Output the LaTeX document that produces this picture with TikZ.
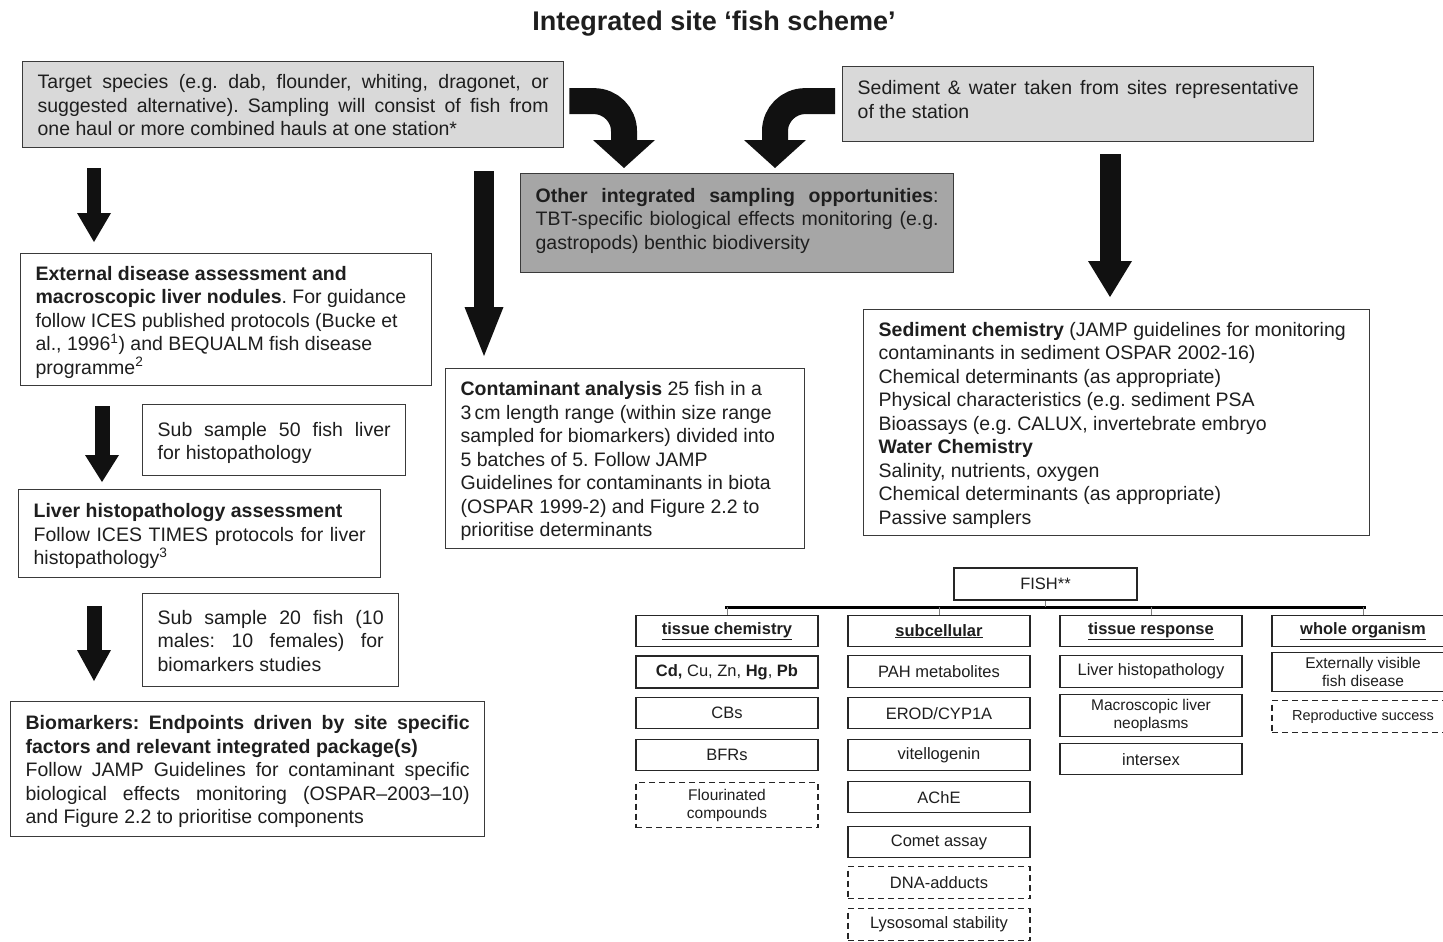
\documentclass[tikz,border=0pt]{standalone}
\usepackage{fontspec}
\setmainfont{Liberation Sans}
\usetikzlibrary{calc,arrows.meta}
\definecolor{lightfill}{HTML}{D9D9D9}
\definecolor{darkfill}{HTML}{A6A6A6}
\definecolor{bordercol}{HTML}{3A3A3A}
\definecolor{txt}{HTML}{1E1E1E}
\definecolor{arrowcol}{HTML}{111111}
\newcommand\mainsize{\fontsize{19.5}{23.5}\selectfont}
\newcommand\treesize{\fontsize{16.5}{18}\selectfont}
\newcommand\treesmall{\fontsize{15.5}{18}\selectfont}
\frenchspacing
\begin{document}
\begin{tikzpicture}[x=1pt,y=-1pt,
  box/.style={draw=bordercol, line width=1.3pt, anchor=north west, inner xsep=15pt, inner ysep=0pt,
    align=justify, font=\mainsize, text=txt,
    execute at begin node={\tolerance=9999\hbadness=10000\hyphenpenalty=10000\exhyphenpenalty=10000\rule{0pt}{22.5pt}}},
  tb/.style={draw=black!85, line width=1.2pt, anchor=north, minimum width=182pt, inner sep=0pt,
    align=center, font=\treesize, text=txt},
  tbd/.style={tb, dash pattern=on 6pt off 4pt},
  blk/.style={draw=arrowcol, line width=#1},
]
\useasboundingbox (0,0) rectangle (1443,942);
\fill[white] (0,0) rectangle (1443,942);
\clip (0,0) rectangle (1443,942);

\node[font=\fontsize{27}{32}\selectfont\bfseries, text=txt] (title) at (714,24) {Integrated site ‘fish scheme’};

% upper boxes
\node[box, fill=lightfill, text width=511pt, minimum width=541pt, minimum height=86pt] (target) at (22,61)
 {Target species (e.g. dab, flounder, whiting, dragonet, or\linebreak suggested alternative). Sampling will consist of fish from\linebreak one haul or more combined hauls at one station*\strut};

\node[box, fill=lightfill, text width=441pt, minimum width=471pt, minimum height=75pt] (sedw) at (842,66)
 {Sediment \& water taken from sites representative\linebreak of the station\strut\par\vspace*{11pt}};

\node[box, fill=darkfill, text width=403pt, minimum width=433pt, minimum height=99pt] (other) at (520,173)
 {\textbf{Other integrated sampling opportunities}:\linebreak TBT-specific biological effects monitoring (e.g.\linebreak gastropods) benthic biodiversity\strut\par\vspace*{10pt}};

\node[box, fill=white, text width=381pt, minimum width=411pt, minimum height=132pt] (ext) at (20,253)
 {\textbf{External disease assessment and}\\ \textbf{macroscopic liver nodules}. For guidance\\ follow ICES published protocols (Bucke et\\ al., 1996\textsuperscript{1}) and BEQUALM fish disease\\ programme\textsuperscript{2}\strut};

\node[box, fill=white, text width=233pt, minimum width=263pt, minimum height=71pt] (sub50) at (142,404)
 {Sub sample 50 fish liver\linebreak for histopathology\strut};

\node[box, fill=white, text width=332pt, minimum width=362pt, minimum height=88pt] (liver) at (18,489)
 {\textbf{Liver histopathology assessment}\\ Follow ICES TIMES protocols for liver\linebreak histopathology\textsuperscript{3}\strut};

\node[box, fill=white, text width=226pt, minimum width=256pt, minimum height=93pt] (sub20) at (142,593)
 {Sub sample 20 fish (10\linebreak males: 10 females) for\linebreak biomarkers studies\strut};

\node[box, fill=white, text width=444pt, minimum width=474pt, minimum height=135pt] (bio) at (10,701)
 {\textbf{Biomarkers: Endpoints driven by site specific}\linebreak \textbf{factors and relevant integrated package(s)}\\ Follow JAMP Guidelines for contaminant specific\linebreak biological effects monitoring (OSPAR–2003–10)\linebreak and Figure 2.2 to prioritise components\strut};

\node[box, fill=white, text width=329pt, minimum width=359pt, minimum height=180pt] (contam) at (445,368)
 {\textbf{Contaminant analysis} 25 fish in a\\ 3\,cm length range (within size range\\ sampled for biomarkers) divided into\\ 5 batches of 5. Follow JAMP\\ Guidelines for contaminants in biota\\ (OSPAR 1999-2) and Figure 2.2 to\\ prioritise determinants\strut};

\node[box, fill=white, text width=476pt, minimum width=506pt, minimum height=226pt] (sedchem) at (863,309)
 {\textbf{Sediment chemistry} (JAMP guidelines for monitoring\\ contaminants in sediment OSPAR 2002-16)\\ Chemical determinants (as appropriate)\\ Physical characteristics (e.g. sediment PSA\\ Bioassays (e.g. CALUX, invertebrate embryo\\ \textbf{Water Chemistry}\\ Salinity, nutrients, oxygen\\ Chemical determinants (as appropriate)\\ Passive samplers\strut};

% block arrows
\draw[blk=14pt, -{Triangle[width=34pt,length=29pt,line width=0pt]}]
  ($(target.south west)+(72,20)$) -- ($(ext.north west)+(74,-11)$);
\draw[blk=15pt, -{Triangle[width=34pt,length=27pt,line width=0pt]}]
  ($(ext.south west)+(82,20)$) -- ($(liver.north west)+(84,-7)$);
\draw[blk=15pt, -{Triangle[width=34pt,length=31pt,line width=0pt]}]
  ($(liver.south west)+(76,28)$) -- ($(bio.north west)+(84,-20)$);
\draw[blk=20pt, -{Triangle[width=39pt,length=49pt,line width=0pt]}]
  ($(target.south west)+(462,23)$) -- ($(contam.north west)+(39,-12)$);
\draw[blk=21pt, -{Triangle[width=44pt,length=36pt,line width=0pt]}]
  ($(sedw.south west)+(268,12)$) -- ($(sedchem.north west)+(247,-12)$);
% curved arrows
\draw[blk=26pt, rounded corners=30pt, -{Triangle[width=62pt,length=28pt,line width=0pt]}]
  ($(target.east)+(5,-3.5)$) -| ($(other.north west)+(104,-5)$);
\draw[blk=26pt, rounded corners=30pt, -{Triangle[width=62pt,length=28pt,line width=0pt]}]
  ($(sedw.west)+(-7,-3)$) -| ($(other.north west)+(255,-5)$);

% FISH tree
\node[draw=black!85, line width=1.2pt, minimum width=183pt, minimum height=32pt, inner sep=0pt,
  font=\treesize, text=txt] (fish) at (1045.5,584) {FISH**};
\coordinate (barL) at (725,607);
\coordinate (barR) at (1366,607);

% column 1
\node[tb, minimum height=31pt] (h1) at (727,615) {\textbf{\underline{tissue chemistry}}};
\node[tb, minimum height=32pt, line width=2pt] (c1a) at (727,655) {\textbf{Cd,} Cu, Zn, \textbf{Hg}, \textbf{Pb}};
\node[tb, minimum height=31pt] (c1b) at (727,697) {CBs};
\node[tb, minimum height=31pt] (c1c) at (727,739) {BFRs};
\node[tbd, minimum height=45pt, font=\treesmall] (c1d) at (727,782) {Flourinated\\compounds};
% column 2
\node[tb, minimum height=31pt] (h2) at (939,615) {\textbf{\underline{subcellular}}};
\node[tb, minimum height=32pt] (c2a) at (939,655) {PAH metabolites};
\node[tb, minimum height=31pt] (c2b) at (939,697) {EROD/CYP1A};
\node[tb, minimum height=31pt] (c2c) at (939,739) {vitellogenin};
\node[tb, minimum height=31pt] (c2d) at (939,781) {AChE};
\node[tb, minimum height=31pt] (c2e) at (939,826) {Comet assay};
\node[tbd, minimum height=32pt] (c2f) at (939,866) {DNA-adducts};
\node[tbd, minimum height=32pt] (c2g) at (939,908) {Lysosomal stability};
% column 3
\node[tb, minimum height=31pt] (h3) at (1151,615) {\textbf{\underline{tissue response}}};
\node[tb, minimum height=32pt] (c3a) at (1151,655) {Liver histopathology};
\node[tb, minimum height=42pt, font=\treesmall] (c3b) at (1151,694) {Macroscopic liver\\neoplasms};
\node[tb, minimum height=31pt] (c3c) at (1151,743) {intersex};
% column 4
\node[tb, minimum height=31pt] (h4) at (1363,615) {\textbf{\underline{whole organism}}};
\node[tb, minimum height=39pt, font=\treesmall] (c4a) at (1363,652) {Externally visible\\fish disease};
\node[tbd, minimum height=32pt, font=\fontsize{14.5}{17}\selectfont] (c4b) at (1363,700) {Reproductive success};

\draw[line width=3pt, black] (barL) -- (barR);
\draw[line width=1pt, black!50] (fish.south) -- (fish.south |- barL);
\foreach \h in {h1,h2,h3,h4}
  \draw[line width=1pt, black!50] (\h.north |- barL) -- (\h.north);
\end{tikzpicture}
\end{document}
